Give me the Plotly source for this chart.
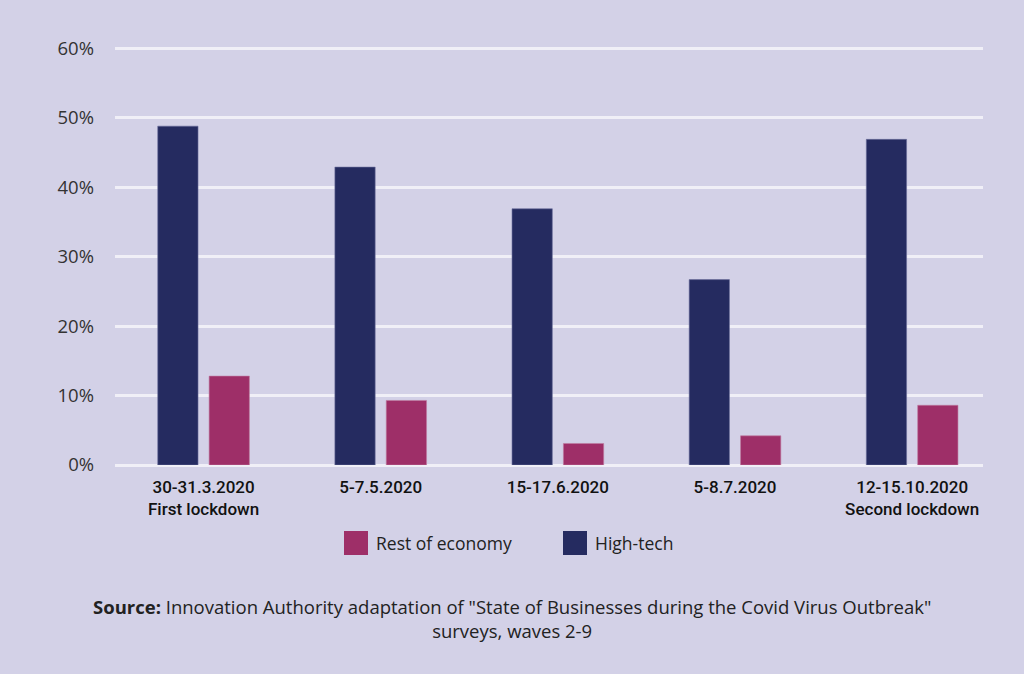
import plotly.graph_objects as go

categories = ["30-31.3.2020<br>First lockdown", "5-7.5.2020", "15-17.6.2020", "5-8.7.2020", "12-15.10.2020<br>Second lockdown"]
high_tech = [48.8, 42.9, 36.9, 26.7, 46.9]
rest_of_economy = [12.8, 9.3, 3.1, 4.2, 8.6]
y_ticks = [0, 10, 20, 30, 40, 50, 60]
y_tick_labels = ["0%", "10%", "20%", "30%", "40%", "50%", "60%"]
legend_names = ["Rest of economy", "High-tech"]

NAVY = "#252B60"
MAGENTA = "#9E2F68"
BG = "#D3D1E7"
GRID = "#F0EFF7"
FONT = "Open Sans, Lato, sans-serif"

fig = go.Figure()
fig.add_trace(go.Bar(x=categories, y=high_tech, name="High-tech",
                     marker=dict(color=NAVY, line=dict(color="#6a6d9a", width=0.6))))
fig.add_trace(go.Bar(x=categories, y=rest_of_economy, name="Rest of economy",
                     marker=dict(color=MAGENTA, line=dict(color="#c07aa0", width=0.6))))

L, R, T, B = 115, 41, 47, 209
W, H = 1024, 674
pw, ph = W - L - R, H - T - B
def px(x):
    return (x - L) / pw
def py(y):
    return (H - B - y) / ph

fig.update_layout(
    width=W, height=H,
    paper_bgcolor=BG, plot_bgcolor=BG,
    margin=dict(l=L, r=R, t=T, b=B),
    barmode="group", bargap=0.42, bargroupgap=0.216,
    font=dict(family=FONT, color="#333333"),
    showlegend=False,
)
fig.update_xaxes(type="category", range=[-0.5, 4.4], showgrid=False, showline=False, zeroline=False,
                 tickfont=dict(family="Roboto, sans-serif", size=17, color="#111111", weight=500),
                 ticks="", ticklabelstandoff=10)
fig.update_yaxes(range=[0, 60.2], tickvals=y_ticks, ticktext=y_tick_labels, showgrid=True,
                 gridcolor=GRID, gridwidth=3,
                 zeroline=True, zerolinecolor=GRID, zerolinewidth=3, showline=False,
                 tickfont=dict(size=18.5, color="#333333"), ticklabelstandoff=20)

# legend drawn manually with large swatches
legend_colors = [MAGENTA, NAVY]
legend_x = [344, 563]
for name, col, x0 in zip(legend_names, legend_colors, legend_x):
    fig.add_shape(type="rect", xref="paper", yref="paper",
                  x0=px(x0), x1=px(x0 + 24), y0=py(555), y1=py(531),
                  fillcolor=col, line=dict(width=0))
    fig.add_annotation(xref="paper", yref="paper", x=px(x0 + 30), y=py(543),
                       xanchor="left", yanchor="middle", showarrow=False, text=name,
                       font=dict(size=17.5, color="#222222"))

fig.add_annotation(xref="paper", yref="paper", x=px(512), y=py(592), yanchor="top", showarrow=False,
                   align="center",
                   text="<b>Source:</b> Innovation Authority adaptation of \"State of Businesses during the Covid Virus Outbreak\"<br>surveys, waves 2-9",
                   font=dict(size=18.5, color="#222222"))

fig.write_html("out.html", post_script="document.body.style.margin='0';",
               config={"displayModeBar": False})
